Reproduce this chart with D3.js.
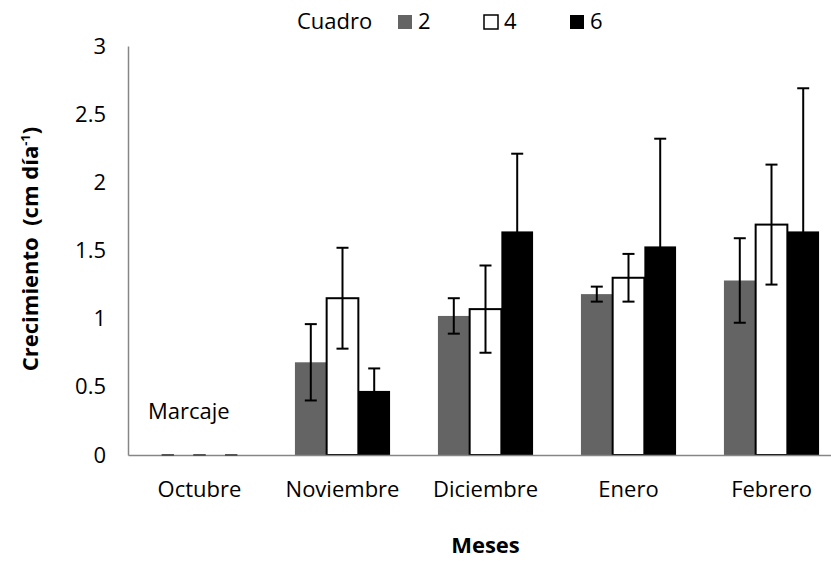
<!DOCTYPE html>
<html>
<head>
<meta charset="utf-8">
<script src="https://cdn.jsdelivr.net/npm/d3@7"></script>
<style>
  html, body { margin: 0; padding: 0; background: #fff; }
  svg { display: block; font-family: "Open Sans", "DejaVu Sans", sans-serif; }
</style>
</head>
<body>
<svg id="chart" width="831" height="561"></svg>
<script>
// Monthly growth per paddock (cm día⁻¹), mean ± error
const months = ["Octubre", "Noviembre", "Diciembre", "Enero", "Febrero"];
const seriesNames = ["2", "4", "6"];
const cuadro2 = [0, 0.68, 1.02, 1.18, 1.28];
const cuadro2Err = [0, 0.28, 0.13, 0.055, 0.31];
const cuadro4 = [0, 1.15, 1.07, 1.30, 1.69];
const cuadro4Err = [0, 0.37, 0.32, 0.175, 0.44];
const cuadro6 = [0, 0.47, 1.64, 1.53, 1.64];
const cuadro6Err = [0, 0.165, 0.57, 0.79, 1.05];
const yTicks = [0, 0.5, 1, 1.5, 2, 2.5, 3];

(function () {
  const seriesValues = [cuadro2, cuadro4, cuadro6];
  const seriesErrors = [cuadro2Err, cuadro4Err, cuadro6Err];
  const fills = ["#646464", "#ffffff", "#000000"];
  const strokes = ["none", "#000000", "none"];
  const fontSize = 22;

  const rows = [];
  months.forEach((m, i) => {
    seriesNames.forEach((s, j) => {
      rows.push({ month: m, series: s, value: seriesValues[j][i], err: seriesErrors[j][i], j });
    });
  });

  const svg = d3.select("#chart");
  const plotLeft = 128, plotBottom = 455, plotTop = 46;

  const x0 = d3.scaleBand().domain(months).range([plotLeft, plotLeft + 143 * months.length]).paddingInner(0).paddingOuter(0);
  const x1 = d3.scaleBand().domain(seriesNames).range([0, x0.bandwidth()]).paddingInner(0).paddingOuter(0.755);
  const y = d3.scaleLinear().domain([0, 3]).range([plotBottom, plotTop]);

  const axisColor = "#868686";

  // Y axis
  const yAxis = svg.append("g")
    .attr("transform", `translate(${plotLeft},0)`)
    .call(d3.axisLeft(y).tickValues(yTicks).tickSize(0).tickPadding(22).tickFormat(d3.format("~g")));
  yAxis.select(".domain").attr("stroke", axisColor).attr("stroke-width", 1.5);
  yAxis.selectAll("text").attr("font-size", fontSize).attr("fill", "#000").attr("font-family", "'Open Sans', sans-serif");

  // Bars
  svg.append("g").selectAll("rect.bar")
    .data(rows.filter(d => d.value > 0))
    .join("rect")
    .attr("class", "bar")
    .attr("x", d => x0(d.month) + x1(d.series))
    .attr("y", d => y(d.value))
    .attr("width", x1.bandwidth())
    .attr("height", d => y(0) - y(d.value))
    .attr("fill", d => fills[d.j])
    .attr("stroke", d => strokes[d.j])
    .attr("stroke-width", 2);

  // X axis
  const xAxis = svg.append("g")
    .attr("transform", `translate(0,${plotBottom})`)
    .call(d3.axisBottom(x0).tickSize(0).tickPadding(26).tickSizeOuter(0));
  xAxis.select(".domain").attr("stroke", axisColor).attr("stroke-width", 1.5);
  xAxis.selectAll("text").attr("font-size", fontSize).attr("fill", "#000").attr("font-family", "'Open Sans', sans-serif");

  // Error bars
  const capHalf = 6;
  const eb = svg.append("g").attr("stroke-width", 2).attr("fill", "none");
  rows.forEach(d => {
    const cx = x0(d.month) + x1(d.series) + x1.bandwidth() / 2;
    const y1 = y(d.value + d.err), y2 = y(Math.max(0, d.value - d.err));
    const col = d.value === 0 ? "#555" : "#000";
    if (d.err > 0) {
      eb.append("line").attr("x1", cx).attr("x2", cx).attr("y1", y1).attr("y2", y2).attr("stroke", col);
    }
    eb.append("line").attr("x1", cx - capHalf).attr("x2", cx + capHalf).attr("y1", y1).attr("y2", y1).attr("stroke", col);
    eb.append("line").attr("x1", cx - capHalf).attr("x2", cx + capHalf).attr("y1", y2).attr("y2", y2).attr("stroke", col);
  });

  // Annotation on the first month
  svg.append("text")
    .attr("x", 148).attr("y", 419)
    .attr("font-size", fontSize)
    .text("Marcaje");

  // Axis titles
  svg.append("text")
    .attr("x", (plotLeft + plotLeft + 143 * months.length) / 2).attr("y", 553)
    .attr("text-anchor", "middle")
    .attr("font-size", fontSize).attr("font-weight", "bold")
    .text("Meses");

  const yTitle = svg.append("text")
    .attr("transform", "translate(38,249) rotate(-90)")
    .attr("text-anchor", "middle")
    .attr("font-size", 22).attr("font-weight", "bold");
  yTitle.append("tspan").text("Crecimiento\u00a0\u00a0(cm día");
  yTitle.append("tspan").attr("font-size", 13).attr("dy", -8).text("-1");
  yTitle.append("tspan").attr("dy", 8).text(")");

  // Legend
  const legend = svg.append("g").attr("font-size", fontSize);
  legend.append("text").attr("x", 297).attr("y", 29).text("Cuadro");
  const legendX = [398, 484, 570];
  seriesNames.forEach((s, j) => {
    legend.append("rect")
      .attr("x", legendX[j]).attr("y", 15)
      .attr("width", 14).attr("height", 14)
      .attr("fill", fills[j])
      .attr("stroke", j === 1 ? "#000" : "none")
      .attr("stroke-width", 1.5);
    legend.append("text").attr("x", legendX[j] + 20).attr("y", 29).text(s);
  });
})();
</script>
</body>
</html>
